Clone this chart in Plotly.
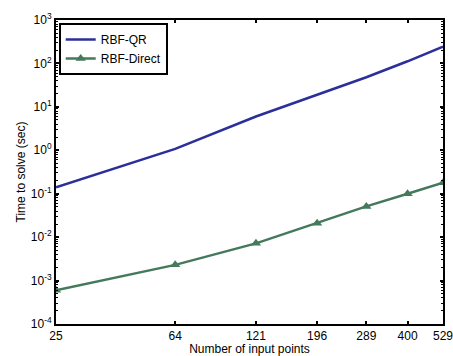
import numpy as np
import plotly.graph_objects as go

# Problem sizes (number of input points)
n_points = [25, 64, 121, 196, 289, 400, 529]

# Solve times in seconds
rbf_qr = [0.14, 1.08, 6.0, 19.0, 48.0, 112.0, 245.0]
rbf_direct = [0.0006, 0.0023, 0.0072, 0.021, 0.051, 0.10, 0.18]

x_tick_labels = ["25", "64", "121", "196", "289", "400", "529"]
y_exponents = [-4, -3, -2, -1, 0, 1, 2, 3]
y_tick_labels = ["10<sup>%d</sup>" % e for e in y_exponents]

blue = "#2b2f9a"
green = "#447a5b"
font = "Liberation Sans, Arial, sans-serif"

fig = go.Figure()
fig.add_trace(go.Scatter(
    x=n_points, y=rbf_qr, name="RBF-QR", mode="lines",
    line=dict(color=blue, width=2.5),
))
fig.add_trace(go.Scatter(
    x=n_points, y=rbf_direct, name="RBF-Direct", mode="lines+markers",
    line=dict(color=green, width=2.5),
    marker=dict(symbol="triangle-up", size=9, color=green),
))

minor_y = [k * 10.0 ** e for e in y_exponents[:-1] for k in range(2, 10)]

fig.update_xaxes(
    type="log", automargin=False, ticklabeloverflow="allow",
    range=[np.log10(n_points[0]), np.log10(n_points[-1])],
    tickvals=n_points, ticktext=x_tick_labels,
    ticks="inside", ticklen=3, tickwidth=1.5, tickcolor="black",
    showline=True, linecolor="black", linewidth=2, mirror="ticks",
    showgrid=False, zeroline=False,
    tickfont=dict(family=font, size=12, color="black"),
    title=dict(text="Number of input points",
               font=dict(family=font, size=12, color="black")),
)
fig.update_yaxes(
    type="log", automargin=False, ticklabeloverflow="allow", range=[-4, 3],
    tickvals=[10.0 ** e for e in y_exponents], ticktext=y_tick_labels,
    ticks="inside", ticklen=3, tickwidth=1.5, tickcolor="black",
    minor=dict(tickvals=minor_y, ticks="inside", ticklen=2, tickwidth=1, tickcolor="black", showgrid=False),
    showline=True, linecolor="black", linewidth=2, mirror="ticks",
    showgrid=False, zeroline=False,
    tickfont=dict(family=font, size=12, color="black"),
    title=dict(text="Time to solve (sec)", standoff=3,
               font=dict(family=font, size=12, color="black")),
)

fig.update_layout(
    width=453, height=356,
    margin=dict(l=56, r=10, t=20, b=32),
    paper_bgcolor="white", plot_bgcolor="white",
    font=dict(family=font, size=12, color="black"),
    showlegend=True,
    legend=dict(
        x=0.007, y=0.99, xanchor="left", yanchor="top",
        bgcolor="white", bordercolor="black", borderwidth=2,
        font=dict(family=font, size=12, color="black"),
        tracegroupgap=0, itemwidth=30,
    ),
)

fig.write_html("out.html")
